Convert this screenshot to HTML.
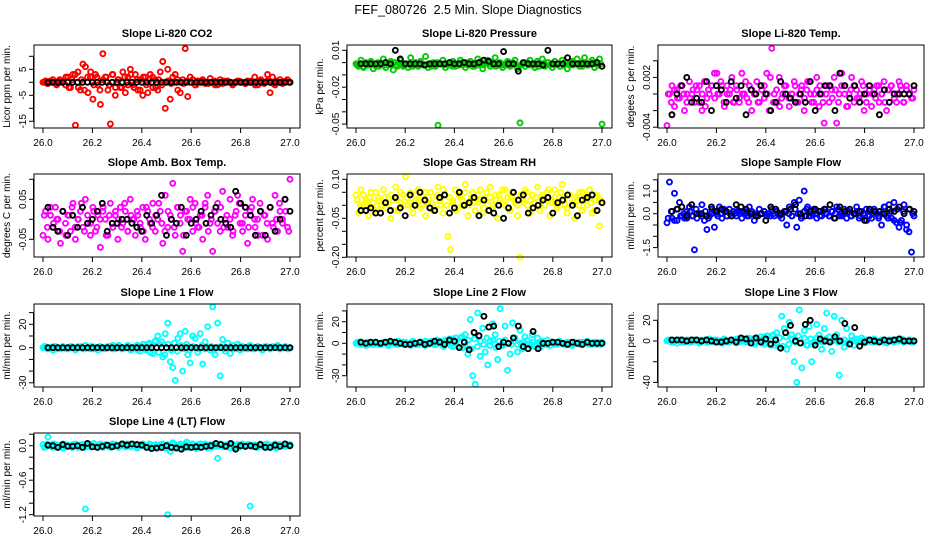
<!DOCTYPE html>
<html><head><meta charset="utf-8">
<style>
body{margin:0;background:#fff;}
svg{display:block;font-family:"Liberation Sans",sans-serif;}
</style></head>
<body>
<svg id="chart" width="936" height="540" viewBox="0 0 936 540">
<text x="468" y="14" text-anchor="middle" font-size="12.5" style="white-space:pre">FEF_080726  2.5 Min. Slope Diagnostics</text>
</svg>
<script>
// ---- data (x spans 26.0..27.0; colored series evenly spaced, black series 26.02..27.0) ----
const xTicks=[26.0,26.2,26.4,26.6,26.8,27.0];
const xTickLabels=["26.0","26.2","26.4","26.6","26.8","27.0"];
const co2Color=[0,0.5,-0.5,0,1,0,-0.5,0.5,0,-1, 2,-2,3,-16.5,4,-3,7,6,-4,2, -6.5,3,-1,-8.5,11,2,-3,-16,3,-5, 1,-2,4,-4,2,5,-1,3,-3,1, -5,2,-4,3,-2,1,-3,4,8,-10, 5,-6.5,2,3,-3,-4,1,13,-5.5,2, 1,-1,0.5,0,1,-0.5,0,1.5,0,-1, 0,1,-0.5,0,0.5,0,-1,0,0.5,0, 0,-0.5,0.5,0,0,-1,0,0.5,0,0, 3,-4,2,-1,0,1,-0.5,0,1,0];
const co2Core=[0,-0.5,0.5,0,-1,1,0,2,-2,1, 3,-2,1,-3,2,4,-1,2,-3,1, 2,-1,3,-2,1,-2,2,-1,3,-2, 1,-3,2,-1,1,2,-2,1,-1,0, 0.5,-0.5,0,1,0,-0.5,0.5,0,1,-1, 0,0.5,0,-0.5,0,0.5,-1,0,0.5,0, 0,-0.5,0,0.5,0,-0.5,0,0.5,2,-1, 1,-0.5,0.5,0,-0.5,0.5,0,0,0.5,0];
const co2Black=[0,0,0,0,0,0,0,0,0,0,0,0,0,0,0,0,0,0,0,0,0,0,0,0,0,0,0,0,0,0,0,0,0,0,0,0,0,0,0,0,0,0,0,0,0,0,0,0,0,0];
const presColor=[-1,-3,2,-4,0,-2,1,-5,-3,0, -2,3,-4,-1,1,-6,-2,0,2,-3, -1,-4,4,-2,0,-3,1,-2,5,-4, -2,0,-3,-51,-1,2,-4,-2,0,1, -3,-1,2,-2,-4,0,1,-3,-2,3, -1,-5,0,2,-3,-1,4,-2,0,-4, -2,1,-3,0,2,-5,-49,-1,-3,0, 2,-2,-4,1,-1,3,-3,0,-2,-4, 1,-1,-3,2,0,-5,-2,1,-1,3, -3,0,4,-2,-1,2,-4,0,3,-50];
const presCore=[-2,-1,-3,-2,0,-1,-2,-3,-1,-2, -1,-2,0,-3,-1,-2,-1,-2,-3,0, -2,-1,-2,-1,-3,-2,0,-1,-2,-1, -2,-3,-1,-2,0,-1,-2,-1,-3,-2, -1,-2,0,-1,-2,-3,-1,-2,-1,0, -2,-1,-3,-2,-1,0,-2,-1,-2,-3, -1,-2,0,-1,-2,-1,-3,-2,-1,0, -2,-1,-2,-3,-1,-2,0,-1,-2,-1];
const presBlack=[-1,-1,-1,-1,-1,0,-1,10,3,-1, -1,-1,-1,-2,-1,-1,-1,-1,0,-1, -1,0,-1,-1,0,2,1,-1,-1,9, -1,-1,-7,0,-1,-1,-1,-2,10,-1, -1,-1,4,-1,-1,-1,-1,-1,0,-3];
const tempColor=[-3.8,0,1,-1.5,0.5,-0.5,1,-2,0,1.5, 0,-1,0.5,1,-2,1.5,-0.5,0,1,2.5, 2.5,0,1,-1.5,1,0,2,-1,0.5,-1, 2.5,0,-0.5,1,-2,0,1.5,-1,0.5,1, 2.5,-2,5.5,0,-1,2,-0.5,1,0,-1.5, 0,1.5,-1,0,1,-2,0.5,1.5,-1,0, 2,-1.5,0,-3.5,1,-1,0.5,2,-3.5,0, 2.5,1,-1.5,0,2,-1,0.5,-0.5,1.5,-2, 0,1,-1.5,0.5,1,-1,0,1.5,-2,0.5, 1,0,-1,1.5,0.5,-1,1,0,-0.5,0.5];
const tempCore=[0,-1,0.5,-0.5,1,0,-1,-0.5,0.5,1, -1,0,-1.5,0.5,1,-0.5,0,1.5,-1,0, 0.5,-1,1,-0.5,0,1.5,-1,0.5,0,-1, 1,-0.5,0,2,-1,0.5,-1.5,0,1,-0.5, 0,1,-1,0.5,-0.5,1.5,0,-1,0.5,1, -1,0,1,-0.5,0.5,-1,1,0,-1.5,0.5, 1,-0.5,0,1,-1,0.5,0,-0.5,1,0, -1,0.5,1,-0.5,0,1,-1,0.5,0,-0.5];
const tempBlack=[-2.5,0,1,2,-1,-0.5,-1,1.5,-2,1, 0.5,-1,1.5,-0.5,1,-2.5,0.5,0,1,0, -2,-1,1.5,0,-0.5,-1,0,-1,1.5,-2, 0,1,1,-2,2.5,1,-0.5,1,-1,0, 1,0,-2.5,0.5,-1,0,0,0,0,1];
const ambColor=[-4,2,-5,1,-2,3,0,-6,2,-1, 1,-3,4,-5,0,2,-2,5,-1,-4, 3,-3,1,-7,2,0,-4,4,-2,1, -5,3,-1,2,-3,5,0,-4,1,-2, 3,-5,2,-1,4,-3,0,2,-6,6, -2,1,9,-4,3,-1,-8,2,0,5, -3,4,-2,1,-5,3,6,-1,-8,2, 4,-3,7,0,-2,5,-4,1,6,-1, -3,3,-6,2,5,-2,0,4,-4,1, -5,3,-1,6,-3,2,0,5,-2,10];
const ambCore=[1,-2,3,-1,0,-3,2,-4,1,3, -2,0,4,-3,1,-1,2,-2,0,3, -4,1,-1,2,0,-2,4,-3,1,0, 2,-1,-3,3,0,-2,1,4,-1,-3, 2,0,-2,3,1,-4,2,0,3,-1, -2,1,4,-3,0,2,-1,3,-2,1, 0,-3,2,4,-1,1,-2,3,0,-4, 2,1,-1,3,-2,0,4,-1,2,-3];
const ambBlack=[3,-2,-3,2,-4,1,-2,3,-1,0, 2,4,-3,-1,-1,0,0,-1,-2,-3, 1,-1,1,6,-4,0,-1,3,-4,-1, 0,2,-1,1,3,0,-1,-2,7,4, 3,1,-4,2,-4,3,-3,0,5,2];
const rhColor=[4,-3,6,0,2,-4,5,1,-2,3, 0,6,-1,3,-5,2,7,-2,1,4, 11,0,5,-3,2,6,-1,3,-4,1, 5,-2,2,7,0,-3,4,-12,-17,2, 6,-1,3,0,8,-4,2,5,-2,1, 6,-3,3,0,7,-1,4,-5,2,6, 0,3,-2,5,1,-4,-20,2,6,0, -3,4,1,7,-2,3,0,5,-4,2, 6,-1,3,8,0,-3,4,1,-5,2, 5,-2,3,0,6,-3,2,4,-8,1];
const rhCore=[2,0,4,1,3,-1,5,2,0,3, 1,4,-2,2,5,0,3,1,-1,4, 2,0,5,3,1,-1,4,2,6,0, 3,1,-2,4,2,5,0,3,1,4, 2,-1,5,3,0,2,4,1,6,-1, 3,2,0,4,1,5,2,-1,3,0, 4,2,6,1,3,0,5,2,-1,4, 1,3,0,5,2,4,1,-2,3,2];
const rhBlack=[-2,-2,-1,-3,-3,1,-2,3,-1,-4, 4,0,5,2,-1,-2,3,4,-3,-1, 5,0,1,3,-4,2,-2,-3,0,-5, -1,5,2,4,-3,-1,0,2,3,-3, 1,2,4,0,-4,2,3,4,-2,1];
const flowColor=[-4,14,-2,9,-3,5,-1,-2,1,3, -1,-16,-2,0,4,-3,-7,-1,2,-6, 0,3,-2,1,-1,2,-1,0,1,1, -2,1,-1,3,0,-3,-1,2,0,1, -1,0,2,-1,1,0,-2,1,-5,3, -1,5,-6,6,-1,10,2,-1,0,1, -2,1,-1,2,0,-1,1,-2,3,-1, 0,2,-2,1,-1,0,3,-2,1,0, -3,1,-2,2,0,-1,-5,3,-1,4, -2,5,-4,-6,-3,4,-7,-8,-17,-1];
const flowCore=[-2,1,-3,2,-1,0,-2,1,-1,2, 0,-1,1,-2,0,1,-1,0,2,-1, 0,1,-1,0,1,0,-1,1,0,-1, 0,1,0,-1,0,1,-1,0,1,0, -1,2,0,-2,1,3,-1,2,0,-1, 1,0,-1,1,0,2,-1,0,1,-1, 0,1,-1,0,2,-1,0,1,-2,0, 3,-2,1,-3,2,-4,1,-5,2,0];
const flowBlack=[1,2,3,-1,4,0,0,-1,3,1, 2,1,-1,4,3,2,0,-1,0,-3, 3,2,0,1,2,4,0,-1,1,2, 1,2,4,-2,3,1,2,0,1,-3, 2,1,1,0,2,1,3,0,2,1];
const line1Color=[0,1,-1,0,-2,1,0,-1,1,0, -1,1,0,-2,1,0,-1,2,0,-1, 1,0,-2,1,0,-1,1,0,2,-1, 0,1,-1,0,2,-1,0,1,-2,0, 1,-1,3,-4,2,5,10,3,-8,12, 21,-12,-17,-28,8,12,-20,14,-6,-13, 10,8,-4,12,-14,5,18,-2,35,-6, 21,-24,7,-3,4,-5,2,-1,3,-2, 1,0,-1,2,0,-1,1,0,-2,1, 0,-1,1,0,2,-1,0,1,-1,0];
const line1Core=[1,-1,0,1,-1,0,1,-1,0,1, -1,0,1,-1,0,1,-1,0,1,-1, 0,1,-1,0,2,-1,0,1,-2,0, 2,-3,3,-2,4,-5,6,-4,5,-6, 3,-2,4,-3,2,-1,3,-2,1,0, -1,2,-1,0,1,-1,0,1,-1,0, 1,-1,0,1,-1,0,1,-1,0,1, -1,0,1,-1,0,1,-1,0,1,-1];
const line1Black=[0,0,0,0,0,0,0,0,0,0,0,0,0,0,0,0,0,0,0,0,0,0,0,0,0,0,0,0,0,0,0,0,0,0,0,0,0,0,0,0,0,0,0,0,0,0,0,0,0,0];
const line2Color=[0,1,-1,0,-2,1,0,-1,1,0, -1,1,0,-2,1,0,-1,2,0,-1, 1,0,-2,1,0,-1,1,0,2,-1, 0,1,-1,0,2,-1,3,1,-2,4, 1,-3,5,-4,8,-10,22,-30,-38,28, -12,14,-8,-20,2,18,8,-15,32,-2, 16,-25,-10,19,5,-8,12,-5,6,3, -2,8,-3,5,-4,2,-1,3,-2,1, 0,-1,2,0,-1,1,0,-2,1,0, -1,1,0,2,-1,0,1,-1,0,1];
const line2Core=[1,-1,0,1,-1,0,1,-1,0,1, -1,0,1,-1,0,1,-1,0,2,-1, 0,1,-2,0,2,-1,3,1,-3,2, 4,-3,5,-4,6,-2,3,-5,4,-3, 2,-1,5,-2,3,-4,2,-1,3,0, -1,2,-1,0,1,-1,0,1,-1,0, 1,-1,0,1,-1,0,1,-1,0,1, -1,0,1,-1,0,1,-1,0,1,-1];
const line2Black=[1,0,1,1,0,1,2,1,0,-1, -1,0,1,-1,0,2,1,-1,3,2, -4,1,-6,10,7,25,15,16,-3,1, 0,5,16,-3,-5,11,-5,0,0,1, 1,0,-1,1,0,-1,1,0,0,0];
const line3Color=[0,1,-1,0,-2,1,0,-1,1,0, -1,1,0,-2,1,0,-1,2,0,-1, 1,0,-2,1,0,-1,1,0,2,-1, 0,1,-1,0,2,-1,3,1,-2,4, 1,-3,5,-4,8,-6,24,12,-8,18, 6,-20,-40,30,-26,10,-4,14,-20,-2, 16,6,-8,12,27,4,-10,24,6,-33, 20,-6,12,-3,5,-4,2,-1,3,-2, 1,0,-1,2,0,-1,1,0,-2,1, 0,-1,1,0,2,-1,0,1,-1,0];
const line3Core=[1,-1,0,1,-1,0,1,-1,0,1, -1,0,1,-1,0,1,-1,0,2,-1, 0,1,-2,0,2,-1,3,1,-3,2, 4,-3,5,-4,6,-2,3,-5,4,-3, 2,-1,5,-2,3,-4,2,-1,3,0, -1,2,-1,0,1,-1,0,1,-1,0, 1,-1,0,1,-1,0,1,-1,0,1, -1,0,1,-1,0,1,-1,0,1,-1];
const line3Black=[1,1,1,0,1,1,0,1,0,-1, -1,0,1,-1,3,2,-2,3,-1,2, -3,1,-7,8,15,0,-2,16,20,-4, 2,0,-1,4,0,17,-3,13,-5,-1, 1,0,-1,1,0,1,2,0,0,0];
const line4Color=[2,-2,15,1,-3,2,0,-2,3,-1, 1,-2,2,0,-3,1,2,-110,-1,2, 0,-2,1,3,-1,2,0,-3,1,2, -1,0,3,-2,1,-1,2,0,-2,1, 3,-1,0,2,-2,1,-3,2,3,-4, -120,-10,5,-2,1,3,-1,2,-3,0, 2,-1,1,3,-2,0,-4,2,1,-1, -22,3,-2,1,0,2,-1,-3,2,0, 1,-2,2,-105,0,1,-2,3,-1,2, 0,-1,1,3,-2,2,0,-1,1,2];
const line4Core=[-3,2,-1,3,-2,1,-4,2,0,-3, 3,-1,2,-3,1,-2,4,-1,2,-3, 1,-2,3,0,-3,2,-1,3,-2,1, -4,2,0,-3,3,-1,2,-2,1,-3, 2,-1,3,-2,1,-4,6,-2,3,-5, 1,-2,3,0,-3,2,-1,3,-2,1, -4,2,0,-3,3,-1,2,-2,1,-3, 2,-1,3,-2,1,-4,2,0,3,-1];
const line4Black=[1,0,-3,2,-1,-1,0,-3,4,-2, -3,-1,1,-2,0,3,1,3,2,1, -3,-5,-4,-3,0,-3,-4,-6,-2,-3, -2,-3,-1,0,4,2,-1,4,-6,0, -1,0,-2,2,-3,-3,1,-1,3,0];

const panels=[
 {name:"co2",title:"Slope Li-820 CO2",ylab:"Licor ppm per min.",L:34,R:300,T:45,B:128,y0:82.3,k:2.6,color:"#ff0000",c:co2Color,core:co2Core,b:co2Black,ticks:[-15,-10,-5,0,5,10],labs:{"-15":"-15","-5":"-5","5":"5"}},
 {name:"pressure",title:"Slope Li-820 Pressure",ylab:"kPa per min.",L:347,R:612,T:45,B:128,y0:62.6,k:1.23,color:"#00cd00",c:presColor,core:presCore,b:presBlack,ticks:[-50,-40,-30,-20,-10,0,10],labs:{"10":"0.01","-20":"-0.02","-50":"-0.05"}},
 {name:"li820-temp",title:"Slope Li-820 Temp.",ylab:"degees C per min.",L:658,R:924,T:45,B:128,y0:94,k:8.3,color:"#ff00ff",c:tempColor,core:tempCore,b:tempBlack,ticks:[-4,-2,0,2,4],labs:{"2":"0.002","-4":"-0.004"}},
 {name:"amb-box-temp",title:"Slope Amb. Box Temp.",ylab:"degrees C per min.",L:34,R:300,T:174,B:257,y0:219.3,k:4,color:"#ff00ff",c:ambColor,core:ambCore,b:ambBlack,ticks:[-5,0,5,10],labs:{"5":"0.05","-5":"-0.05"}},
 {name:"gas-rh",title:"Slope Gas Stream RH",ylab:"percent per min.",L:347,R:612,T:174,B:257,y0:205.3,k:2.6,color:"#ffff00",c:rhColor,core:rhCore,b:rhBlack,ticks:[-20,-15,-10,-5,0,5,10],labs:{"10":"0.10","-5":"-0.05","-20":"-0.20"}},
 {name:"sample-flow",title:"Slope Sample Flow",ylab:"ml/min per min.",L:658,R:924,T:174,B:257,y0:213.7,k:2.26,color:"#0000ff",c:flowColor,core:flowCore,b:flowBlack,ticks:[-15,-10,-5,0,5,10,15],labs:{"10":"1.0","0":"0.0","-15":"-1.5"}},
 {name:"line1-flow",title:"Slope Line 1 Flow",ylab:"ml/min per min.",L:34,R:300,T:304,B:387,y0:347.7,k:1.17,color:"#00ffff",c:line1Color,core:line1Core,b:line1Black,ticks:[-30,-20,-10,0,10,20,30],labs:{"20":"20","0":"0","-30":"-30"}},
 {name:"line2-flow",title:"Slope Line 2 Flow",ylab:"ml/min per min.",L:347,R:612,T:304,B:387,y0:343.3,k:1.08,color:"#00ffff",c:line2Color,core:line2Core,b:line2Black,ticks:[-30,-20,-10,0,10,20,30],labs:{"20":"20","0":"0","-30":"-30"}},
 {name:"line3-flow",title:"Slope Line 3 Flow",ylab:"ml/min per min.",L:658,R:924,T:304,B:387,y0:341,k:1.035,color:"#00ffff",c:line3Color,core:line3Core,b:line3Black,ticks:[-40,-20,0,20],labs:{"20":"20","0":"0","-40":"-40"}},
 {name:"line4-flow",title:"Slope Line 4 (LT) Flow",ylab:"ml/min per min.",L:34,R:300,T:433,B:516,y0:445.7,k:0.575,color:"#00ffff",c:line4Color,core:line4Core,b:line4Black,ticks:[-120,-100,-80,-60,-40,-20,0,20],labs:{"0":"0.0","-60":"-0.6","-120":"-1.2"}}
];
const NS="http://www.w3.org/2000/svg";
const svg=document.getElementById('chart');
function mk(tag,attrs,parent){const e=document.createElementNS(NS,tag);for(const a in attrs)e.setAttribute(a,attrs[a]);parent.appendChild(e);return e;}
panels.forEach(p=>{
  const g=mk('g',{},svg);
  
  
  const xs=v=>p.L+9+(v-26)*(p.R-p.L-19);
  const ys=v=>p.y0-v*p.k;
  const t=mk('text',{x:(p.L+p.R)/2,y:p.T-8,'text-anchor':'middle','font-size':'11','font-weight':'bold'},g);
  t.textContent=p.title;
  
  
  const yl=mk('text',{x:0,y:0,'text-anchor':'middle','font-size':'10',transform:`translate(${p.L-24},${(p.T+p.B)/2}) rotate(-90)`},g);
  yl.textContent=p.ylab;
  
  
  const pts=mk('g',{fill:'none','stroke-width':'1.9'},g);
  
  
  p.core.forEach((v,i)=>{
    const c=mk('circle',{cx:xs(26.005+i*0.99/(p.core.length-1)),cy:ys(v),r:2.5,stroke:p.color},pts);
    
    
  });
  p.c.forEach((v,i)=>{
    const c=mk('circle',{cx:xs(26+i/(p.c.length-1)),cy:ys(v),r:2.5,stroke:p.color},pts);
    
    
  });
  p.b.forEach((v,i)=>{
    const c=mk('circle',{cx:xs(26.02+i*0.98/(p.b.length-1)),cy:ys(v),r:2.5,stroke:'#000'},pts);
    
    
  });
  const box=mk('rect',{x:p.L,y:p.T,width:p.R-p.L,height:p.B-p.T,fill:'none',stroke:'#000','stroke-width':'1'},g);
  
  
  const xa=mk('g',{},g);
  
  
  mk('line',{x1:xs(26),x2:xs(27),y1:p.B,y2:p.B,stroke:'#000'},xa);
  xTicks.forEach((v,i)=>{
    mk('line',{x1:xs(v),x2:xs(v),y1:p.B,y2:p.B+5,stroke:'#000'},xa);
    const tl=mk('text',{x:xs(v),y:p.B+18,'text-anchor':'middle','font-size':'10'},xa);
    tl.textContent=xTickLabels[i];
  });
  const ya=mk('g',{},g);
  
  
  const tmin=Math.min(...p.ticks),tmax=Math.max(...p.ticks);
  mk('line',{x1:p.L-0.5,x2:p.L-0.5,y1:ys(tmin),y2:ys(tmax),stroke:'#000'},ya);
  p.ticks.forEach(v=>{
    mk('line',{x1:p.L-5,x2:p.L,y1:ys(v),y2:ys(v),stroke:'#000'},ya);
    const lab=p.labs[String(v)];
    if(lab!==undefined){
      const tl=mk('text',{x:0,y:0,'text-anchor':'middle','font-size':'10',transform:`translate(${p.L-8},${ys(v)}) rotate(-90)`},ya);
      tl.textContent=lab;
    }
  });
});
</script>
</body></html>
